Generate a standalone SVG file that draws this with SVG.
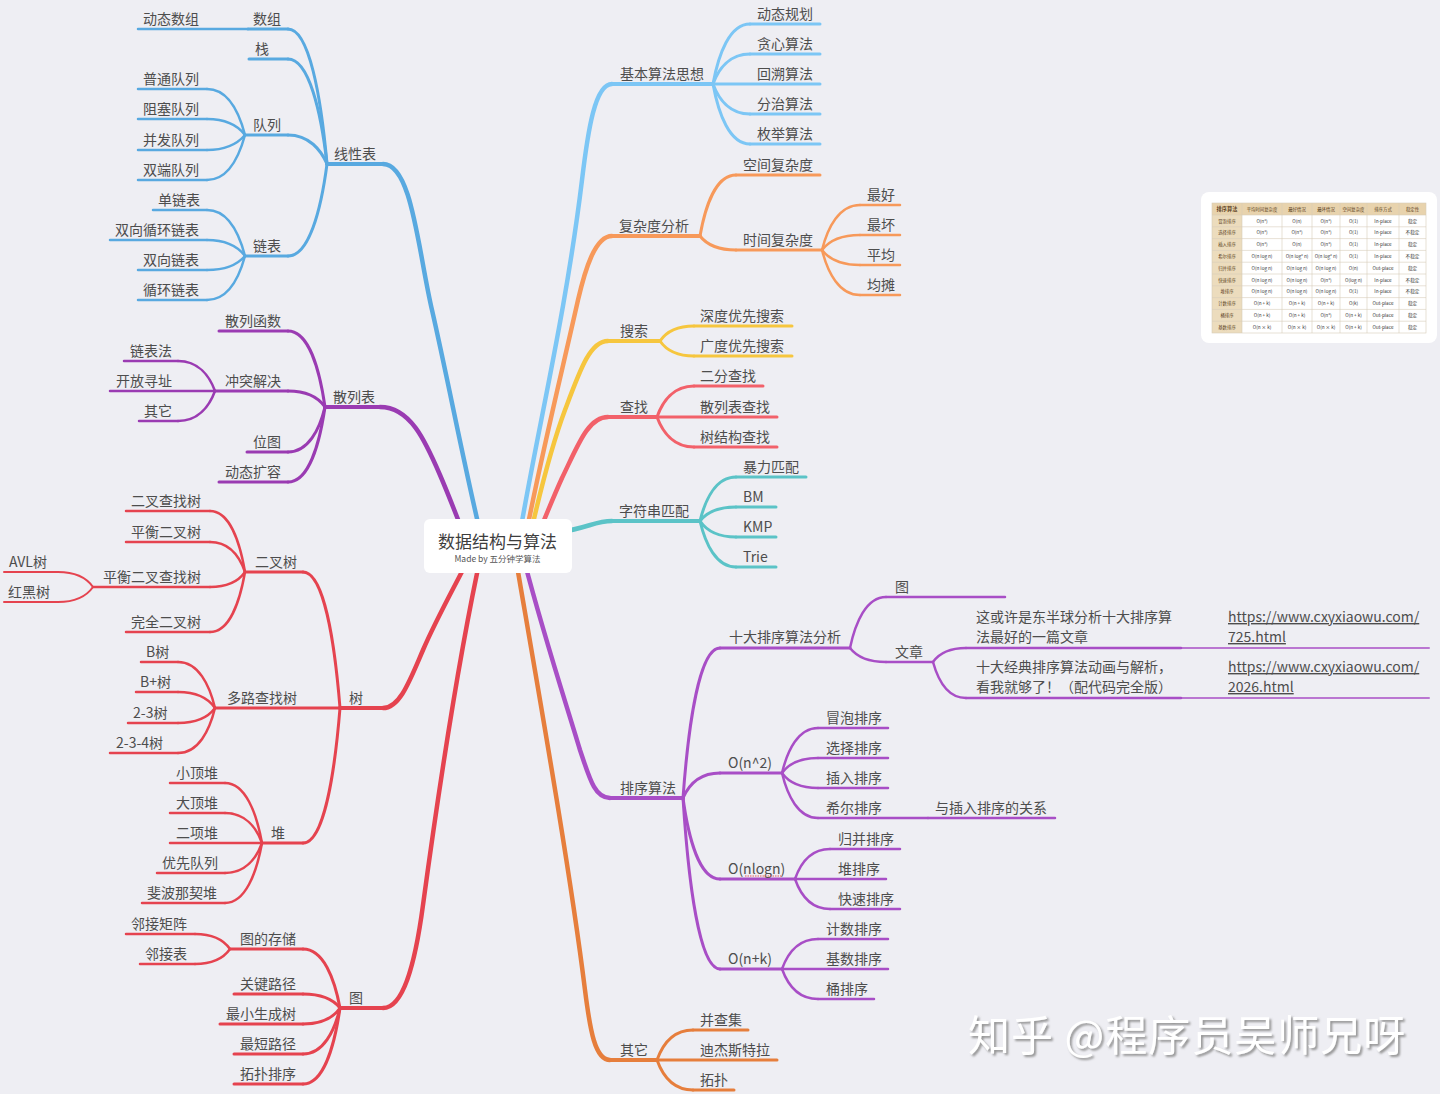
<svg xmlns="http://www.w3.org/2000/svg" width="1440" height="1094" viewBox="0 0 1440 1094">
<defs>
<style>
.t{font-family:"Noto Sans CJK SC","Noto Sans",sans-serif;font-size:14px;fill:#4d4d4d}
.u{fill:none;stroke-linecap:round;stroke-linejoin:round}
.w5{stroke-width:4.5}.w4{stroke-width:4}.w3{stroke-width:3}.w2{stroke-width:2.5}.w1{stroke-width:2}
.cb{stroke:#58a9e0}.cp{stroke:#9a3bb2}.cr{stroke:#e5434f}.cl{stroke:#7cc6f5}.co{stroke:#f7995a}
.cy{stroke:#f6c63e}.ck{stroke:#f2616a}.ct{stroke:#5bc3c7}.cs{stroke:#a84ec6}.ce{stroke:#e67e3c}
.lk{stroke:#a84ec6;opacity:0.75}
.tt{font-family:"Noto Sans CJK SC","Noto Sans",sans-serif;font-size:4.6px;fill:#333;text-anchor:middle}
.th{font-family:"Noto Sans CJK SC","Noto Sans",sans-serif;font-size:4.4px;fill:#5a4020;text-anchor:middle}
.grid{stroke:#d6ccba;stroke-width:0.6;fill:none}
.link{text-decoration:underline}
</style>
<filter id="sh" x="-5%" y="-20%" width="110%" height="150%">
<feDropShadow dx="2" dy="2" stdDeviation="0.8" flood-color="#8a8a8a" flood-opacity="0.9"/>
</filter>
</defs>
<rect width="1440" height="1094" fill="#eeeef3"/>

<g id="connectors">
<!-- main branches -->
<path class="u w5 cb" d="M383 164 C412 164 418 250 432 310 C448 380 465 470 482 540"/>
<path class="u w5 cp" d="M380 407 C410 407 425 440 440 475 C450 498 458 520 468 545"/>
<path class="u w5 cr" d="M383 708 C400 708 410 680 423 650 C435 622 450 595 468 560"/>
<path class="u w5 cr" d="M383 1008 C403 1008 415 965 423 905 C440 780 460 650 482 550"/>
<path class="u w5 cl" d="M612 84 C595 84 588 130 582 180 C565 320 535 440 518 545"/>
<path class="u w5 co" d="M612 236 C595 236 585 270 578 300 C560 380 540 460 524 545"/>
<path class="u w5 cy" d="M608 341 C590 341 580 370 565 410 C550 450 538 500 528 545"/>
<path class="u w5 ck" d="M608 417 C588 417 578 445 562 478 C552 500 542 525 534 545"/>
<path class="u w5 ct" d="M612 521 C595 521 588 528 560 532"/>
<path class="u w5 cs" d="M610 798 C595 798 590 780 580 750 C565 700 545 640 524 560"/>
<path class="u w5 ce" d="M610 1060 C595 1060 590 1030 585 990 C570 870 540 700 516 560"/>

<!-- 线性表 -->
<path class="u w3 cb" d="M327 164 C321 96 309 29 288 29"/>
<path class="u w3 cb" d="M327 164 C321 112 309 59 288 59"/>
<path class="u w3 cb" d="M327 164 C321 150 309 135 288 135"/>
<path class="u w3 cb" d="M327 164 C321 210 309 256 288 256"/>
<path class="u w2 cb" d="M245 135 C239 112 228 89 207 89"/>
<path class="u w2 cb" d="M245 135 C239 127 228 119 207 119"/>
<path class="u w2 cb" d="M245 135 C239 142 228 150 207 150"/>
<path class="u w2 cb" d="M245 135 C239 157 228 180 207 180"/>
<path class="u w2 cb" d="M245 256 C239 233 228 210 207 210"/>
<path class="u w2 cb" d="M245 256 C239 248 228 240 207 240"/>
<path class="u w2 cb" d="M245 256 C239 263 228 270 207 270"/>
<path class="u w2 cb" d="M245 256 C239 278 228 300 207 300"/>

<!-- 散列表 -->
<path class="u w3 cp" d="M325 407 C319.5 369 308.4 331 288 331"/>
<path class="u w3 cp" d="M325 407 C319.5 399 308.4 391 288 391"/>
<path class="u w3 cp" d="M325 407 C319.5 429.5 308.4 452 288 452"/>
<path class="u w3 cp" d="M325 407 C319.5 444.5 308.4 482 288 482"/>
<path class="u w2 cp" d="M215 391 C209.5 376 198.4 361 178 361"/>
<path class="u w2 cp" d="M215 391 C209.5 406 198.4 421 178 421"/>

<!-- 树 -->
<path class="u w3 cr" d="M340 708 C334.5 640 323.4 572 303 572"/>
<path class="u w3 cr" d="M340 708 C334.5 775.5 323.4 843 303 843"/>
<path class="u w2 cr" d="M245 572 C239.75 541.5 229.25 511 210 511"/>
<path class="u w2 cr" d="M245 572 C239.75 557 229.25 542 210 542"/>
<path class="u w2 cr" d="M245 572 C239.75 579.5 229.25 587 210 587"/>
<path class="u w2 cr" d="M245 572 C239.75 602 229.25 632 210 632"/>
<path class="u w1 cr" d="M93 587 C87.75 579.5 77.25 572 58 572"/>
<path class="u w1 cr" d="M93 587 C87.75 594.5 77.25 602 58 602"/>
<path class="u w2 cr" d="M215 708 C209.5 685 198.4 662 178 662"/>
<path class="u w2 cr" d="M215 708 C209.5 700 198.4 692 178 692"/>
<path class="u w2 cr" d="M215 708 C209.5 715.5 198.4 723 178 723"/>
<path class="u w2 cr" d="M215 708 C209.5 730.5 198.4 753 178 753"/>
<path class="u w2 cr" d="M262 843 C256.5 813 245.4 783 225 783"/>
<path class="u w2 cr" d="M262 843 C256.5 828 245.4 813 225 813"/>
<path class="u w2 cr" d="M262 843 C256.5 858 245.4 873 225 873"/>
<path class="u w2 cr" d="M262 843 C256.5 873 245.4 903 225 903"/>

<!-- 图 -->
<path class="u w3 cr" d="M340 1008 C334.5 978.5 323.4 949 303 949"/>
<path class="u w3 cr" d="M340 1008 C334.5 1001 323.4 994 303 994"/>
<path class="u w3 cr" d="M340 1008 C334.5 1016 323.4 1024 303 1024"/>
<path class="u w3 cr" d="M340 1008 C334.5 1031 323.4 1054 303 1054"/>
<path class="u w3 cr" d="M340 1008 C334.5 1046 323.4 1084 303 1084"/>
<path class="u w2 cr" d="M230 949 C224.75 941.5 214.25 934 195 934"/>
<path class="u w2 cr" d="M230 949 C224.75 956.5 214.25 964 195 964"/>

<!-- 基本算法思想 -->
<path class="u w3 cl" d="M713 84 C718.5 54 729.6 24 750 24"/>
<path class="u w3 cl" d="M713 84 C718.5 69 729.6 54 750 54"/>
<path class="u w3 cl" d="M713 84 C718.5 99 729.6 114 750 114"/>
<path class="u w3 cl" d="M713 84 C718.5 114 729.6 144 750 144"/>

<!-- 复杂度分析 -->
<path class="u w3 co" d="M700 236 C705.4 205.5 716.2 175 736 175"/>
<path class="u w3 co" d="M700 236 C705.4 243 716.2 250 736 250"/>
<path class="u w2 co" d="M822 250 C827.7 227.5 839.1 205 860 205"/>
<path class="u w2 co" d="M822 250 C827.7 242.5 839.1 235 860 235"/>
<path class="u w2 co" d="M822 250 C827.7 257.5 839.1 265 860 265"/>
<path class="u w2 co" d="M822 250 C827.7 272.5 839.1 295 860 295"/>

<!-- 搜索 -->
<path class="u w3 cy" d="M660 341 C665.1 333.5 675.3 326 694 326"/>
<path class="u w3 cy" d="M660 341 C665.1 348.5 675.3 356 694 356"/>

<!-- 查找 -->
<path class="u w3 ck" d="M657 417 C662.5 401.5 673.6 386 694 386"/>
<path class="u w3 ck" d="M657 417 C662.5 432 673.6 447 694 447"/>

<!-- 字符串匹配 -->
<path class="u w3 ct" d="M700 521 C705.4 499 716.2 477 736 477"/>
<path class="u w3 ct" d="M700 521 C705.4 514 716.2 507 736 507"/>
<path class="u w3 ct" d="M700 521 C705.4 529 716.2 537 736 537"/>
<path class="u w3 ct" d="M700 521 C705.4 544 716.2 567 736 567"/>

<!-- 排序算法 -->
<path class="u w3 cs" d="M683 798 C688.5 723 699.6 648 720 648"/>
<path class="u w3 cs" d="M683 798 C688.5 785.5 699.6 773 720 773"/>
<path class="u w3 cs" d="M683 798 C688.5 838.5 699.6 879 720 879"/>
<path class="u w3 cs" d="M683 798 C688.5 883.5 699.6 969 720 969"/>
<path class="u w2 cs" d="M850 648 C855.4 622.5 866.2 597 886 597"/>
<path class="u w2 cs" d="M850 648 C855.4 655 866.2 662 886 662"/>
<path class="u w2 cs" d="M933 662 C938 655 947.9 648 966 648"/>
<path class="u w2 cs" d="M933 662 C938 680 947.9 698 966 698"/>
<path class="u w2 cs" d="M782 773 C787.4 750.5 798.2 728 818 728"/>
<path class="u w2 cs" d="M782 773 C787.4 765.5 798.2 758 818 758"/>
<path class="u w2 cs" d="M782 773 C787.4 780.5 798.2 788 818 788"/>
<path class="u w2 cs" d="M782 773 C787.4 795.5 798.2 818 818 818"/>
<path class="u w2 cs" d="M795 879 C800.25 864 810.75 849 830 849"/>
<path class="u w2 cs" d="M795 879 C800.25 894 810.75 909 830 909"/>
<path class="u w2 cs" d="M782 969 C787.4 954 798.2 939 818 939"/>
<path class="u w2 cs" d="M782 969 C787.4 984 798.2 999 818 999"/>

<!-- 其它 -->
<path class="u w3 ce" d="M657 1060 C662.4 1045 673.2 1030 693 1030"/>
<path class="u w3 ce" d="M657 1060 C662.4 1075 673.2 1090 693 1090"/>
</g>

<!-- center -->
<g id="n-root">
<rect x="424" y="519" width="148" height="54" rx="6" fill="#ffffff"/>
<text x="497.5" y="548" text-anchor="middle" style="font-family:'Noto Sans CJK SC','Noto Sans',sans-serif;font-size:17px;fill:#3d3d3d">数据结构与算法</text>
<text x="497.5" y="562" text-anchor="middle" style="font-family:'Noto Sans CJK SC','Noto Sans',sans-serif;font-size:8.5px;fill:#555">Made by 五分钟学算法</text>
</g>

<!-- 线性表 -->
<g id="n-linear"><line class="u w4 cb" x1="327" y1="164" x2="383" y2="164"/><text class="t" x="334" y="159">线性表</text></g>
<g id="n-array"><line class="u w3 cb" x1="248" y1="29" x2="288" y2="29"/><text class="t" x="253" y="24">数组</text></g>
<g id="n-dynarray"><line class="u w2 cb" x1="138" y1="29" x2="248" y2="29"/><text class="t" x="143" y="24">动态数组</text></g>
<g id="n-stack"><line class="u w3 cb" x1="249" y1="59" x2="288" y2="59"/><text class="t" x="255" y="54">栈</text></g>
<g id="n-queue"><line class="u w3 cb" x1="245" y1="135" x2="288" y2="135"/><text class="t" x="253" y="130">队列</text></g>
<g id="n-q1"><line class="u w2 cb" x1="138" y1="89" x2="207" y2="89"/><text class="t" x="143" y="84">普通队列</text></g>
<g id="n-q2"><line class="u w2 cb" x1="138" y1="119" x2="207" y2="119"/><text class="t" x="143" y="114">阻塞队列</text></g>
<g id="n-q3"><line class="u w2 cb" x1="138" y1="150" x2="207" y2="150"/><text class="t" x="143" y="145">并发队列</text></g>
<g id="n-q4"><line class="u w2 cb" x1="138" y1="180" x2="207" y2="180"/><text class="t" x="143" y="175">双端队列</text></g>
<g id="n-list"><line class="u w3 cb" x1="245" y1="256" x2="288" y2="256"/><text class="t" x="253" y="251">链表</text></g>
<g id="n-l1"><line class="u w2 cb" x1="153" y1="210" x2="207" y2="210"/><text class="t" x="158" y="205">单链表</text></g>
<g id="n-l2"><line class="u w2 cb" x1="110" y1="240" x2="207" y2="240"/><text class="t" x="115" y="235">双向循环链表</text></g>
<g id="n-l3"><line class="u w2 cb" x1="138" y1="270" x2="207" y2="270"/><text class="t" x="143" y="265">双向链表</text></g>
<g id="n-l4"><line class="u w2 cb" x1="138" y1="300" x2="207" y2="300"/><text class="t" x="143" y="295">循环链表</text></g>

<!-- 散列表 -->
<g id="n-hash"><line class="u w4 cp" x1="325" y1="407" x2="380" y2="407"/><text class="t" x="333" y="402">散列表</text></g>
<g id="n-h1"><line class="u w3 cp" x1="219" y1="331" x2="288" y2="331"/><text class="t" x="225" y="326">散列函数</text></g>
<g id="n-h2"><line class="u w3 cp" x1="215" y1="391" x2="288" y2="391"/><text class="t" x="225" y="386">冲突解决</text></g>
<g id="n-h21"><line class="u w2 cp" x1="124" y1="361" x2="178" y2="361"/><text class="t" x="130" y="356">链表法</text></g>
<g id="n-h22"><line class="u w2 cp" x1="110" y1="391" x2="215" y2="391"/><text class="t" x="116" y="386">开放寻址</text></g>
<g id="n-h23"><line class="u w2 cp" x1="139" y1="421" x2="178" y2="421"/><text class="t" x="144" y="416">其它</text></g>
<g id="n-h3"><line class="u w3 cp" x1="247" y1="452" x2="288" y2="452"/><text class="t" x="253" y="447">位图</text></g>
<g id="n-h4"><line class="u w3 cp" x1="219" y1="482" x2="288" y2="482"/><text class="t" x="225" y="477">动态扩容</text></g>

<!-- 树 -->
<g id="n-tree"><line class="u w4 cr" x1="340" y1="708" x2="383" y2="708"/><text class="t" x="349" y="703">树</text></g>
<g id="n-bt"><line class="u w3 cr" x1="245" y1="572" x2="303" y2="572"/><text class="t" x="255" y="567">二叉树</text></g>
<g id="n-bt1"><line class="u w2 cr" x1="126" y1="511" x2="210" y2="511"/><text class="t" x="131" y="506">二叉查找树</text></g>
<g id="n-bt2"><line class="u w2 cr" x1="126" y1="542" x2="210" y2="542"/><text class="t" x="131" y="537">平衡二叉树</text></g>
<g id="n-bt3"><line class="u w2 cr" x1="93" y1="587" x2="210" y2="587"/><text class="t" x="103" y="582">平衡二叉查找树</text></g>
<g id="n-avl"><line class="u w1 cr" x1="4" y1="572" x2="58" y2="572"/><text class="t" x="9" y="567">AVL树</text></g>
<g id="n-rb"><line class="u w1 cr" x1="4" y1="602" x2="58" y2="602"/><text class="t" x="8" y="597">红黑树</text></g>
<g id="n-bt4"><line class="u w2 cr" x1="126" y1="632" x2="210" y2="632"/><text class="t" x="131" y="627">完全二叉树</text></g>
<g id="n-mt"><line class="u w3 cr" x1="215" y1="708" x2="340" y2="708"/><text class="t" x="227" y="703">多路查找树</text></g>
<g id="n-mt1"><line class="u w2 cr" x1="141" y1="662" x2="178" y2="662"/><text class="t" x="146" y="657">B树</text></g>
<g id="n-mt2"><line class="u w2 cr" x1="136" y1="692" x2="178" y2="692"/><text class="t" x="140" y="687">B+树</text></g>
<g id="n-mt3"><line class="u w2 cr" x1="128" y1="723" x2="178" y2="723"/><text class="t" x="133" y="718">2-3树</text></g>
<g id="n-mt4"><line class="u w2 cr" x1="110" y1="753" x2="178" y2="753"/><text class="t" x="116" y="748">2-3-4树</text></g>
<g id="n-heap"><line class="u w3 cr" x1="262" y1="843" x2="303" y2="843"/><text class="t" x="271" y="838">堆</text></g>
<g id="n-hp1"><line class="u w2 cr" x1="170" y1="783" x2="225" y2="783"/><text class="t" x="176" y="778">小顶堆</text></g>
<g id="n-hp2"><line class="u w2 cr" x1="170" y1="813" x2="225" y2="813"/><text class="t" x="176" y="808">大顶堆</text></g>
<g id="n-hp3"><line class="u w2 cr" x1="170" y1="843" x2="262" y2="843"/><text class="t" x="176" y="838">二项堆</text></g>
<g id="n-hp4"><line class="u w2 cr" x1="157" y1="873" x2="225" y2="873"/><text class="t" x="162" y="868">优先队列</text></g>
<g id="n-hp5"><line class="u w2 cr" x1="142" y1="903" x2="225" y2="903"/><text class="t" x="147" y="898">斐波那契堆</text></g>

<!-- 图 -->
<g id="n-graph"><line class="u w4 cr" x1="340" y1="1008" x2="383" y2="1008"/><text class="t" x="349" y="1003">图</text></g>
<g id="n-g1"><line class="u w3 cr" x1="230" y1="949" x2="303" y2="949"/><text class="t" x="240" y="944">图的存储</text></g>
<g id="n-g11"><line class="u w2 cr" x1="126" y1="934" x2="195" y2="934"/><text class="t" x="131" y="929">邻接矩阵</text></g>
<g id="n-g12"><line class="u w2 cr" x1="140" y1="964" x2="195" y2="964"/><text class="t" x="145" y="959">邻接表</text></g>
<g id="n-g2"><line class="u w3 cr" x1="234" y1="994" x2="303" y2="994"/><text class="t" x="240" y="989">关键路径</text></g>
<g id="n-g3"><line class="u w3 cr" x1="220" y1="1024" x2="303" y2="1024"/><text class="t" x="226" y="1019">最小生成树</text></g>
<g id="n-g4"><line class="u w3 cr" x1="234" y1="1054" x2="303" y2="1054"/><text class="t" x="240" y="1049">最短路径</text></g>
<g id="n-g5"><line class="u w3 cr" x1="234" y1="1084" x2="303" y2="1084"/><text class="t" x="240" y="1079">拓扑排序</text></g>

<!-- 基本算法思想 -->
<g id="n-algo"><line class="u w4 cl" x1="612" y1="84" x2="713" y2="84"/><text class="t" x="620" y="79">基本算法思想</text></g>
<g id="n-a1"><line class="u w3 cl" x1="750" y1="24" x2="820" y2="24"/><text class="t" x="757" y="19">动态规划</text></g>
<g id="n-a2"><line class="u w3 cl" x1="750" y1="54" x2="820" y2="54"/><text class="t" x="757" y="49">贪心算法</text></g>
<g id="n-a3"><line class="u w3 cl" x1="713" y1="84" x2="820" y2="84"/><text class="t" x="757" y="79">回溯算法</text></g>
<g id="n-a4"><line class="u w3 cl" x1="750" y1="114" x2="820" y2="114"/><text class="t" x="757" y="109">分治算法</text></g>
<g id="n-a5"><line class="u w3 cl" x1="750" y1="144" x2="820" y2="144"/><text class="t" x="757" y="139">枚举算法</text></g>

<!-- 复杂度分析 -->
<g id="n-cx"><line class="u w4 co" x1="612" y1="236" x2="700" y2="236"/><text class="t" x="619" y="231">复杂度分析</text></g>
<g id="n-cx1"><line class="u w3 co" x1="736" y1="175" x2="820" y2="175"/><text class="t" x="743" y="170">空间复杂度</text></g>
<g id="n-cx2"><line class="u w3 co" x1="736" y1="250" x2="822" y2="250"/><text class="t" x="743" y="245">时间复杂度</text></g>
<g id="n-cx21"><line class="u w2 co" x1="860" y1="205" x2="900" y2="205"/><text class="t" x="867" y="200">最好</text></g>
<g id="n-cx22"><line class="u w2 co" x1="860" y1="235" x2="900" y2="235"/><text class="t" x="867" y="230">最坏</text></g>
<g id="n-cx23"><line class="u w2 co" x1="860" y1="265" x2="900" y2="265"/><text class="t" x="867" y="260">平均</text></g>
<g id="n-cx24"><line class="u w2 co" x1="860" y1="295" x2="900" y2="295"/><text class="t" x="867" y="290">均摊</text></g>

<!-- 搜索 -->
<g id="n-search"><line class="u w4 cy" x1="608" y1="341" x2="660" y2="341"/><text class="t" x="620" y="336">搜索</text></g>
<g id="n-s1"><line class="u w3 cy" x1="694" y1="326" x2="792" y2="326"/><text class="t" x="700" y="321">深度优先搜索</text></g>
<g id="n-s2"><line class="u w3 cy" x1="694" y1="356" x2="792" y2="356"/><text class="t" x="700" y="351">广度优先搜索</text></g>

<!-- 查找 -->
<g id="n-find"><line class="u w4 ck" x1="608" y1="417" x2="657" y2="417"/><text class="t" x="620" y="412">查找</text></g>
<g id="n-f1"><line class="u w3 ck" x1="694" y1="386" x2="763" y2="386"/><text class="t" x="700" y="381">二分查找</text></g>
<g id="n-f2"><line class="u w3 ck" x1="657" y1="417" x2="777" y2="417"/><text class="t" x="700" y="412">散列表查找</text></g>
<g id="n-f3"><line class="u w3 ck" x1="694" y1="447" x2="777" y2="447"/><text class="t" x="700" y="442">树结构查找</text></g>

<!-- 字符串匹配 -->
<g id="n-str"><line class="u w4 ct" x1="612" y1="521" x2="700" y2="521"/><text class="t" x="619" y="516">字符串匹配</text></g>
<g id="n-st1"><line class="u w3 ct" x1="736" y1="477" x2="806" y2="477"/><text class="t" x="743" y="472">暴力匹配</text></g>
<g id="n-st2"><line class="u w3 ct" x1="736" y1="507" x2="776" y2="507"/><text class="t" x="743" y="502">BM</text></g>
<g id="n-st3"><line class="u w3 ct" x1="736" y1="537" x2="776" y2="537"/><text class="t" x="743" y="532">KMP</text></g>
<g id="n-st4"><line class="u w3 ct" x1="736" y1="567" x2="776" y2="567"/><text class="t" x="743" y="562">Trie</text></g>

<!-- 排序算法 -->
<g id="n-sort"><line class="u w4 cs" x1="610" y1="798" x2="683" y2="798"/><text class="t" x="620" y="793">排序算法</text></g>
<g id="n-top10"><line class="u w3 cs" x1="720" y1="648" x2="850" y2="648"/><text class="t" x="729" y="642">十大排序算法分析</text></g>
<g id="n-pic"><line class="u w2 cs" x1="886" y1="597" x2="1005" y2="597"/><text class="t" x="895" y="592">图</text></g>
<g id="n-art"><line class="u w2 cs" x1="886" y1="662" x2="933" y2="662"/><text class="t" x="895" y="657">文章</text></g>
<g id="n-art1"><line class="u w2 cs" x1="966" y1="648" x2="1181" y2="648"/><text class="t" x="976" y="622">这或许是东半球分析十大排序算</text><text class="t" x="976" y="642">法最好的一篇文章</text></g>
<g id="n-link1"><line class="u w1 lk" x1="1181" y1="648" x2="1429" y2="648"/><text class="t link" x="1228" y="622">https://www.cxyxiaowu.com/</text><text class="t link" x="1228" y="642">725.html</text></g>
<g id="n-art2"><line class="u w2 cs" x1="966" y1="698" x2="1181" y2="698"/><text class="t" x="976" y="672">十大经典排序算法动画与解析，</text><text class="t" x="976" y="692">看我就够了！（配代码完全版）</text></g>
<g id="n-link2"><line class="u w1 lk" x1="1181" y1="698" x2="1429" y2="698"/><text class="t link" x="1228" y="672">https://www.cxyxiaowu.com/</text><text class="t link" x="1228" y="692">2026.html</text></g>
<g id="n-on2"><line class="u w3 cs" x1="720" y1="773" x2="782" y2="773"/><text class="t" x="728" y="768">O(n^2)</text></g>
<g id="n-o1"><line class="u w2 cs" x1="818" y1="728" x2="888" y2="728"/><text class="t" x="826" y="723">冒泡排序</text></g>
<g id="n-o2"><line class="u w2 cs" x1="818" y1="758" x2="888" y2="758"/><text class="t" x="826" y="753">选择排序</text></g>
<g id="n-o3"><line class="u w2 cs" x1="818" y1="788" x2="888" y2="788"/><text class="t" x="826" y="783">插入排序</text></g>
<g id="n-o4"><line class="u w2 cs" x1="818" y1="818" x2="928" y2="818"/><text class="t" x="826" y="813">希尔排序</text></g>
<g id="n-o41"><line class="u w2 cs" x1="928" y1="818" x2="1055" y2="818"/><text class="t" x="935" y="813">与插入排序的关系</text></g>
<g id="n-onlogn"><line class="u w3 cs" x1="720" y1="879" x2="795" y2="879"/><text class="t" x="728" y="874">O(nlogn)</text><line x1="745" y1="876" x2="781" y2="876" stroke="#e25a5a" stroke-width="1" stroke-dasharray="1.5 1"/></g>
<g id="n-m1"><line class="u w2 cs" x1="830" y1="849" x2="900" y2="849"/><text class="t" x="838" y="844">归并排序</text></g>
<g id="n-m2"><line class="u w2 cs" x1="795" y1="879" x2="886" y2="879"/><text class="t" x="838" y="874">堆排序</text></g>
<g id="n-m3"><line class="u w2 cs" x1="830" y1="909" x2="900" y2="909"/><text class="t" x="838" y="904">快速排序</text></g>
<g id="n-onk"><line class="u w3 cs" x1="720" y1="969" x2="782" y2="969"/><text class="t" x="728" y="964">O(n+k)</text></g>
<g id="n-k1"><line class="u w2 cs" x1="818" y1="939" x2="888" y2="939"/><text class="t" x="826" y="934">计数排序</text></g>
<g id="n-k2"><line class="u w2 cs" x1="782" y1="969" x2="888" y2="969"/><text class="t" x="826" y="964">基数排序</text></g>
<g id="n-k3"><line class="u w2 cs" x1="818" y1="999" x2="874" y2="999"/><text class="t" x="826" y="994">桶排序</text></g>

<!-- 其它 -->
<g id="n-other"><line class="u w4 ce" x1="610" y1="1060" x2="657" y2="1060"/><text class="t" x="620" y="1055">其它</text></g>
<g id="n-ot1"><line class="u w3 ce" x1="693" y1="1030" x2="748" y2="1030"/><text class="t" x="700" y="1025">并查集</text></g>
<g id="n-ot2"><line class="u w3 ce" x1="657" y1="1060" x2="777" y2="1060"/><text class="t" x="700" y="1055">迪杰斯特拉</text></g>
<g id="n-ot3"><line class="u w3 ce" x1="693" y1="1090" x2="734" y2="1090"/><text class="t" x="700" y="1085">拓扑</text></g>

<!-- table image card -->
<g id="n-table">
<rect x="1201" y="192" width="236" height="151" rx="8" fill="#ffffff"/>
<rect x="1212" y="203" width="214" height="12" fill="#e8d3ad"/>
<rect x="1212" y="215" width="30" height="118" fill="#ecdcbd"/>
<rect x="1212" y="203" width="214" height="130" class="grid"/>
<path class="grid" d="M1242 203V333M1282 203V333M1312 203V333M1340 203V333M1367 203V333M1399 203V333M1212 215H1426M1212 226.8H1426M1212 238.6H1426M1212 250.4H1426M1212 262.2H1426M1212 274H1426M1212 285.8H1426M1212 297.6H1426M1212 309.4H1426M1212 321.2H1426"/>
<text class="th" y="211" style="font-size:5.2px;font-weight:bold"><tspan x="1227">排序算法</tspan></text>
<text class="th" y="210.8"><tspan x="1262">平均时间复杂度</tspan><tspan x="1297">最好情况</tspan><tspan x="1326">最坏情况</tspan><tspan x="1353.5">空间复杂度</tspan><tspan x="1383">排序方式</tspan><tspan x="1412.5">稳定性</tspan></text>
<text class="th" y="222.6"><tspan x="1227">冒泡排序</tspan></text>
<text class="th" y="234.4"><tspan x="1227">选择排序</tspan></text>
<text class="th" y="246.2"><tspan x="1227">插入排序</tspan></text>
<text class="th" y="258"><tspan x="1227">希尔排序</tspan></text>
<text class="th" y="269.8"><tspan x="1227">归并排序</tspan></text>
<text class="th" y="281.6"><tspan x="1227">快速排序</tspan></text>
<text class="th" y="293.4"><tspan x="1227">堆排序</tspan></text>
<text class="th" y="305.2"><tspan x="1227">计数排序</tspan></text>
<text class="th" y="317"><tspan x="1227">桶排序</tspan></text>
<text class="th" y="328.8"><tspan x="1227">基数排序</tspan></text>
<text class="tt" y="222.6"><tspan x="1262">O(n²)</tspan><tspan x="1297">O(n)</tspan><tspan x="1326">O(n²)</tspan><tspan x="1353.5">O(1)</tspan><tspan x="1383">In-place</tspan><tspan x="1412.5">稳定</tspan></text>
<text class="tt" y="234.4"><tspan x="1262">O(n²)</tspan><tspan x="1297">O(n²)</tspan><tspan x="1326">O(n²)</tspan><tspan x="1353.5">O(1)</tspan><tspan x="1383">In-place</tspan><tspan x="1412.5">不稳定</tspan></text>
<text class="tt" y="246.2"><tspan x="1262">O(n²)</tspan><tspan x="1297">O(n)</tspan><tspan x="1326">O(n²)</tspan><tspan x="1353.5">O(1)</tspan><tspan x="1383">In-place</tspan><tspan x="1412.5">稳定</tspan></text>
<text class="tt" y="258"><tspan x="1262">O(n log n)</tspan><tspan x="1297">O(n log² n)</tspan><tspan x="1326">O(n log² n)</tspan><tspan x="1353.5">O(1)</tspan><tspan x="1383">In-place</tspan><tspan x="1412.5">不稳定</tspan></text>
<text class="tt" y="269.8"><tspan x="1262">O(n log n)</tspan><tspan x="1297">O(n log n)</tspan><tspan x="1326">O(n log n)</tspan><tspan x="1353.5">O(n)</tspan><tspan x="1383">Out-place</tspan><tspan x="1412.5">稳定</tspan></text>
<text class="tt" y="281.6"><tspan x="1262">O(n log n)</tspan><tspan x="1297">O(n log n)</tspan><tspan x="1326">O(n²)</tspan><tspan x="1353.5">O(log n)</tspan><tspan x="1383">In-place</tspan><tspan x="1412.5">不稳定</tspan></text>
<text class="tt" y="293.4"><tspan x="1262">O(n log n)</tspan><tspan x="1297">O(n log n)</tspan><tspan x="1326">O(n log n)</tspan><tspan x="1353.5">O(1)</tspan><tspan x="1383">In-place</tspan><tspan x="1412.5">不稳定</tspan></text>
<text class="tt" y="305.2"><tspan x="1262">O(n + k)</tspan><tspan x="1297">O(n + k)</tspan><tspan x="1326">O(n + k)</tspan><tspan x="1353.5">O(k)</tspan><tspan x="1383">Out-place</tspan><tspan x="1412.5">稳定</tspan></text>
<text class="tt" y="317"><tspan x="1262">O(n + k)</tspan><tspan x="1297">O(n + k)</tspan><tspan x="1326">O(n²)</tspan><tspan x="1353.5">O(n + k)</tspan><tspan x="1383">Out-place</tspan><tspan x="1412.5">稳定</tspan></text>
<text class="tt" y="328.8"><tspan x="1262">O(n × k)</tspan><tspan x="1297">O(n × k)</tspan><tspan x="1326">O(n × k)</tspan><tspan x="1353.5">O(n + k)</tspan><tspan x="1383">Out-place</tspan><tspan x="1412.5">稳定</tspan></text>
</g>

<!-- watermark -->
<text x="968" y="1051" filter="url(#sh)" style="font-family:'Noto Sans CJK SC','Noto Sans',sans-serif;font-size:42px;letter-spacing:1px;fill:#ffffff">知乎 @程序员吴师兄呀</text>
</svg>
